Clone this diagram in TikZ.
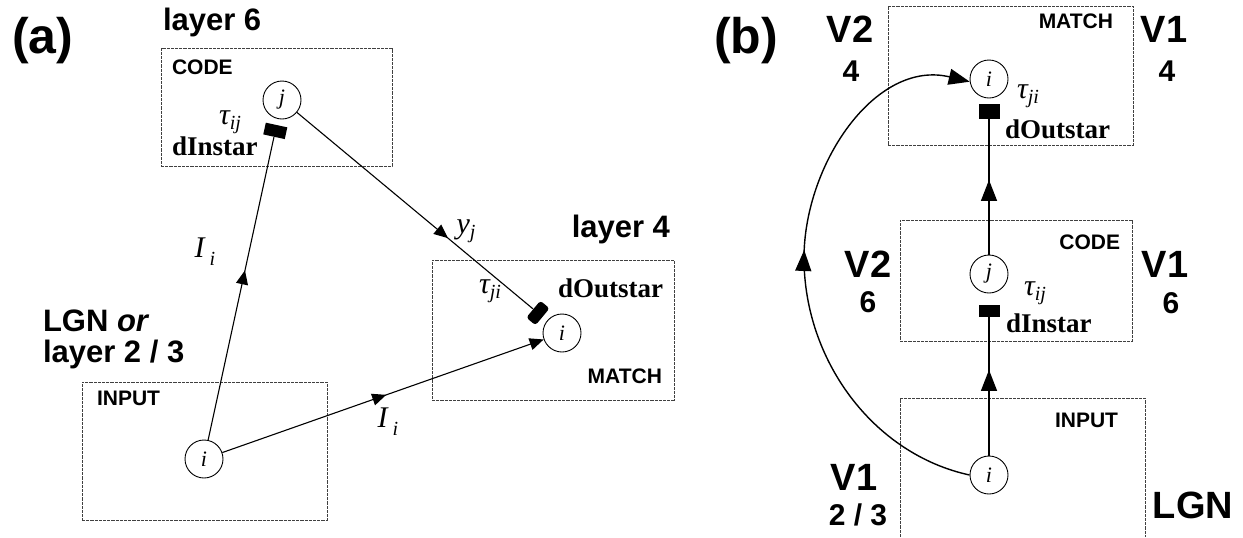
\documentclass[tikz,border=0pt]{standalone}
\usepackage{fontspec}
\setmainfont{Liberation Serif}
\setsansfont{Liberation Sans}
\usetikzlibrary{arrows.meta,decorations.markings,fit}
\newcommand{\subsc}[2][-0.4ex]{\raisebox{#1}{\fontsize{10}{10}\selectfont\itshape #2}}
\begin{document}
\begin{tikzpicture}[x=0.5pt,y=-0.5pt,
  txt/.style={inner sep=0pt, outer sep=0pt},
  panel/.style={txt, font=\sffamily\bfseries\fontsize{25}{25}\selectfont},
  lab/.style={txt, font=\sffamily\bfseries\fontsize{15.5}{16}\selectfont},
  big/.style={txt, font=\sffamily\bfseries\fontsize{19}{19}\selectfont},
  num/.style={txt, font=\sffamily\bfseries\fontsize{15}{15}\selectfont},
  tag/.style={txt, font=\sffamily\bfseries\fontsize{10.5}{11}\selectfont},
  starlab/.style={txt, font=\rmfamily\bfseries\fontsize{13.5}{14}\selectfont},
  sym/.style={txt, font=\rmfamily\itshape\fontsize{15}{15}\selectfont},
  zone/.style={draw=black!75, line width=0.4pt, dash pattern=on 1.6pt off 0.5pt, inner sep=0pt},
  cell/.style={circle, draw, line width=0.45pt, minimum size=19pt, inner sep=0pt,
               font=\rmfamily\itshape\fontsize{11}{11}\selectfont},
  syn/.style={fill=black, draw=none, inner sep=0pt, minimum width=6pt, minimum height=11pt},
  conn/.style={line width=0.55pt},
  connb/.style={line width=0.7pt},
  midarrow/.style={postaction={decorate}, decoration={markings,
     mark=at position #1 with {\arrow{Triangle[length=7pt,width=6pt]}}}},
  midarrowb/.style={postaction={decorate}, decoration={markings,
     mark=at position #1 with {\arrow{Triangle[length=10.5pt,width=8pt]}}}},
]
\useasboundingbox (0,0) rectangle (1243,537);

% ---------------- panel (a) ----------------
\node[panel, anchor=base west] (pa) at (12,53) {(a)};
\node[lab, anchor=base west] (l6) at (163,30) {layer 6};
\node[lab, anchor=base east] (l4) at (670,237) {layer 4};
\node[lab, anchor=base west] (lgn1) at (43,331) {LGN \textit{or}};
\node[lab, anchor=base west] (lgn2) at (43,362) {layer 2 / 3};

\node[zone, fit={(161,48) (392,166)}] (codeA) {};
\node[zone, fit={(432,260) (674,400)}] (matchA) {};
\node[zone, fit={(82,382) (327,520)}] (inputA) {};

\node[tag, anchor=base west] (codeAt) at (172,74) {CODE};
\node[tag, anchor=base east] (matchAt) at (662,383) {MATCH};
\node[tag, anchor=base west] (inputAt) at (97,405) {INPUT};

\node[cell] (ja) at (282,100) {j};
\node[cell] (im) at (562,333) {i};
\node[cell] (ia) at (204,459) {i};

\path (ia.center) -- (ja.center) node[syn, sloped, pos=0.914] (s1) {};
\path (ja.center) -- (im.center) node[syn, sloped, pos=0.914, rounded corners=1.5pt] (s2) {};

\draw[conn, midarrow=0.56] (ia) -- (s1);
\draw[conn, midarrow=0.64] (ja) -- (s2);
\draw[conn, midarrow=0.51, -{Triangle[length=7pt,width=6pt]}] (ia) -- (im);

\node[sym] (tauA1) at (230,122) {τ\subsc{ij}};
\node[starlab, anchor=base west] (dinA) at (172,155) {dInstar};
\node[sym] (yj) at (466,231) {y\subsc{j}};
\node[sym] (tauA2) at (490,291) {τ\subsc{ji}};
\node[starlab, anchor=base west] (doutA) at (558,297) {dOutstar};
\node[sym] (IiA1) at (205,252) {I\,\subsc[-0.6ex]{i}};
\node[sym] (IiA2) at (388,422) {I\,\subsc[-0.6ex]{i}};

% ---------------- panel (b) ----------------
\node[panel, anchor=base west] (pb) at (714,53) {(b)};

\node[zone, fit={(888,6) (1133,145)}] (matchB) {};
\node[zone, fit={(900,220) (1132,341)}] (codeB) {};
\draw[zone] (900,537) -- (900,398) -- (1145,398) -- (1145,537);

\node[tag, anchor=base east] (matchBt) at (1113,28) {MATCH};
\node[tag, anchor=base east] (codeBt) at (1120,249) {CODE};
\node[tag, anchor=base east] (inputBt) at (1118,427) {INPUT};

\node[big, anchor=base] (v1a) at (1164,42) {V1};
\node[num, anchor=base] (n4a) at (1167,81) {4};
\node[big, anchor=base] (v2a) at (850,42) {V2};
\node[num, anchor=base] (n4b) at (851,81) {4};
\node[big, anchor=base] (v2b) at (868,277) {V2};
\node[num, anchor=base] (n6a) at (868,312) {6};
\node[big, anchor=base] (v1b) at (1165,277) {V1};
\node[num, anchor=base] (n6b) at (1171,313) {6};
\node[big, anchor=base] (v1c) at (854,490) {V1};
\node[num, anchor=base] (n23) at (858,525) {2 / 3};
\node[big, anchor=base] (lgnb) at (1193,518) {LGN};

\node[cell] (mb) at (989,79) {i};
\node[cell] (jb) at (989,274) {j};
\node[cell] (ib) at (989,475) {i};

\node[syn, minimum width=10.5pt, minimum height=7.5pt] (s4) at (989,111) {};
\node[syn, minimum width=10.5pt, minimum height=6pt] (s3) at (989,311) {};

\draw[connb, midarrowb=0.62] (ib) -- (s3);
\draw[connb, midarrowb=0.55] (jb) -- (s4);

\coordinate (bend) at (804,258);
\draw[connb, midarrowb=0.53, -{Triangle[length=10.5pt,width=8pt]}]
  (ib.west) .. controls (873,454) and (804,360) .. (bend)
            .. controls (804,165) and (875,59) .. (mb.188);

\node[sym] (tauB1) at (1028,96) {τ\subsc{ji}};
\node[starlab, anchor=base west] (doutB) at (1005,138) {dOutstar};
\node[sym] (tauB2) at (1035,293) {τ\subsc{ij}};
\node[starlab, anchor=base west] (dinB) at (1006,332) {dInstar};
\end{tikzpicture}
\end{document}
